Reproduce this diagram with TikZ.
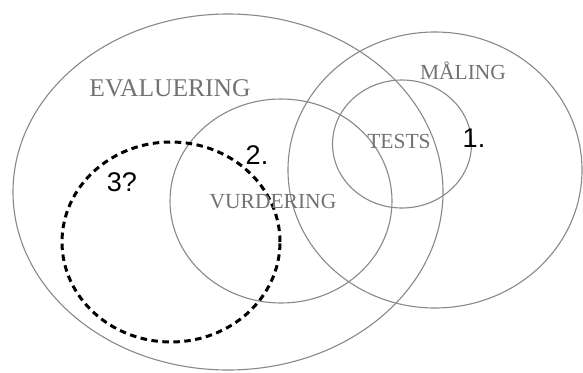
\documentclass[tikz,border=0pt]{standalone}
\usepackage{fontspec}
\setmainfont{Liberation Serif}
\newfontfamily\labelfont{Liberation Sans}
\usetikzlibrary{shapes.geometric}
\definecolor{ringgray}{HTML}{888888}
\definecolor{textgray}{HTML}{727272}
\tikzset{
  ring/.style={ellipse, draw=ringgray, line width=1.1pt, inner sep=0pt},
  dashring/.style={ellipse, draw=black, line width=3pt, dash pattern=on 6.5pt off 4.5pt, inner sep=0pt},
  term/.style={text=textgray, font=\fontsize{21.5}{22}\selectfont, inner sep=0pt},
  bigterm/.style={text=textgray, font=\fontsize{25.5}{26}\selectfont, inner sep=0pt},
  numlabel/.style={text=black, font=\labelfont\fontsize{27}{28}\selectfont, inner sep=0pt}
}
\begin{document}
\begin{tikzpicture}[x=1pt,y=-1pt]
\useasboundingbox (0,0) rectangle (583,372);
\node[ring, minimum width=430pt, minimum height=356pt] (evalring) at (228,192) {};
\node[ring, minimum width=294pt, minimum height=276pt] (maalring) at (435,170) {};
\node[ring, minimum width=139pt, minimum height=128pt] (testring) at (402,144) {};
\node[ring, minimum width=222pt, minimum height=204pt] (vurdring) at (281,201) {};
\node[dashring, minimum width=218pt, minimum height=200pt] (qring) at (171,242) {};
\node[bigterm] (evaltext) at (170,88) {EVALUERING};
\node[term] (maaltext) at (463,71) {MÅLING};
\node[term] (testtext) at (399,141) {TESTS};
\node[term] (vurdtext) at (273,202) {VURDERING};
\node[numlabel] (one) at (474,138) {1.};
\node[numlabel] (two) at (257,155) {2.};
\node[numlabel] (three) at (122,182) {3?};
\end{tikzpicture}
\end{document}
